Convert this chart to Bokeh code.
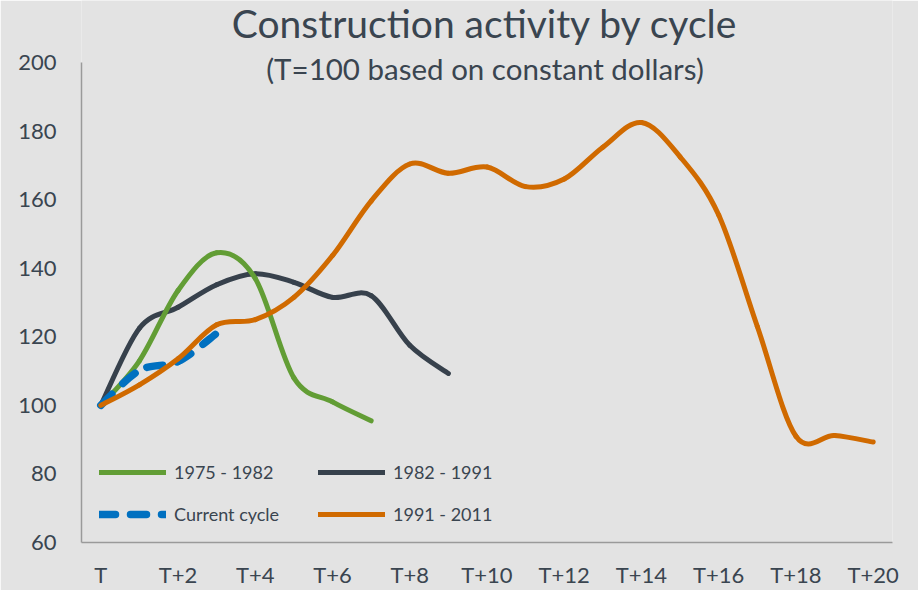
from bokeh.plotting import figure
from bokeh.models import (ColumnDataSource, FixedTicker, Legend, LegendItem, Label)
from bokeh.embed import file_html
from bokeh.resources import INLINE

# ---------------- data ----------------
title_text = "Construction activity by cycle"
subtitle_text = "(T=100 based on constant dollars)"

x_ticks = [0, 2, 4, 6, 8, 10, 12, 14, 16, 18, 20]
x_tick_labels = ["T", "T+2", "T+4", "T+6", "T+8", "T+10", "T+12", "T+14", "T+16", "T+18", "T+20"]
y_ticks = [60, 80, 100, 120, 140, 160, 180, 200]

x_1975 = [0, 1, 2, 3, 4, 5, 6, 7]
y_1975 = [100, 113, 133.5, 144.5, 137, 108, 101, 95.5]

x_1982 = [0, 1, 2, 3, 4, 5, 6, 7, 8, 9]
y_1982 = [100, 122.5, 128.6, 135.2, 138.4, 135.9, 131.5, 132, 117.5, 109.3]

x_current = [0, 1, 2, 3]
y_current = [100, 110.2, 112.8, 121]

x_1991 = list(range(21))
y_1991 = [100, 106, 113.6, 123.5, 125, 131.5, 143.7, 159.6, 170.4, 167.7, 169.5,
          163.8, 166, 175.3, 182.5, 172.5, 155.5, 123, 91, 91.2, 89.3]

series_names = ["1975 - 1982", "1982 - 1991", "Current cycle", "1991 - 2011"]

# ---------------- style ----------------
BG = "#e3e3e3"
TXT = "#3a4550"
C_GREEN = "#629d35"
C_DARK = "#37414c"
C_BLUE = "#0070c0"
C_ORANGE = "#d06a00"
FONT = "Lato"

W, H = 918, 590
BL, BR, BB = 81, 26, 48
TOP_GAP = 62                      # pixels between canvas top and the value 200
X0, X1, Y0, Y_TOP = -0.5, 20.5, 60, 200
PX_X = (W - BL - BR) / (X1 - X0)
PX_Y = (H - TOP_GAP - BB) / (Y_TOP - Y0)
Y1 = Y_TOP + TOP_GAP / PX_Y       # frame reaches the canvas top so the titles are not clipped
DASH_ON, DASH_OFF = 16, 15


def smooth_source(xs, ys):
    """Bezier segments (Catmull-Rom style control points, like a smoothed spreadsheet line)."""
    n = len(xs)
    d = dict(x0=[], y0=[], x1=[], y1=[], cx0=[], cy0=[], cx1=[], cy1=[], off=[])
    run = 0.0
    for i in range(n - 1):
        pm = max(i - 1, 0)
        pp = min(i + 2, n - 1)
        d["x0"].append(xs[i]); d["y0"].append(ys[i])
        d["x1"].append(xs[i + 1]); d["y1"].append(ys[i + 1])
        d["cx0"].append(xs[i] + (xs[i + 1] - xs[pm]) / 6.0)
        d["cy0"].append(ys[i] + (ys[i + 1] - ys[pm]) / 6.0)
        d["cx1"].append(xs[i + 1] - (xs[pp] - xs[i]) / 6.0)
        d["cy1"].append(ys[i + 1] - (ys[pp] - ys[i]) / 6.0)
        # keep the dash pattern continuous from one segment to the next
        d["off"].append(int(round(run)) % (DASH_ON + DASH_OFF))
        seg = (((xs[i + 1] - xs[i]) * PX_X) ** 2 + ((ys[i + 1] - ys[i]) * PX_Y) ** 2) ** 0.5
        run += seg * 1.03
    return ColumnDataSource(d)


p = figure(width=W, height=H, x_range=(X0, X1), y_range=(Y0, Y1),
           output_backend="svg", toolbar_location=None, title=None,
           min_border_left=BL, min_border_right=BR, min_border_top=0, min_border_bottom=BB,
           background_fill_color=BG, border_fill_color=BG, outline_line_color=None)

p.xgrid.visible = False
p.ygrid.visible = False

for ax in (p.xaxis[0], p.yaxis[0]):
    ax.axis_line_color = "#9a9a9a"
    ax.axis_line_width = 1.5
    ax.major_tick_line_color = None
    ax.minor_tick_line_color = None
    ax.major_tick_out = 0
    ax.major_tick_in = 0
    ax.minor_tick_out = 0
    ax.minor_tick_in = 0
    ax.major_label_text_font = FONT
    ax.major_label_text_color = TXT
    ax.major_label_text_font_size = "22px"

p.xaxis[0].ticker = FixedTicker(ticks=x_ticks)
p.xaxis[0].major_label_overrides = {t: lab for t, lab in zip(x_ticks, x_tick_labels)}
p.xaxis[0].major_label_standoff = 18
p.yaxis[0].ticker = FixedTicker(ticks=y_ticks)
p.yaxis[0].bounds = (Y0, Y_TOP)
p.yaxis[0].major_label_standoff = 25

bz = dict(x0="x0", y0="y0", x1="x1", y1="y1", cx0="cx0", cy0="cy0", cx1="cx1", cy1="cy1",
          line_cap="round", line_join="round")
r_dark = p.bezier(source=smooth_source(x_1982, y_1982), line_color=C_DARK, line_width=5, **bz)
r_green = p.bezier(source=smooth_source(x_1975, y_1975), line_color=C_GREEN, line_width=5, **bz)
r_blue = p.bezier(source=smooth_source(x_current, y_current), line_color=C_BLUE, line_width=7.5,
                  line_dash=f"{DASH_ON} {DASH_OFF}", line_dash_offset="off", **bz)
r_orange = p.bezier(source=smooth_source(x_1991, y_1991), line_color=C_ORANGE, line_width=5, **bz)

leg_style = dict(padding=0, margin=0, border_line_color=None, background_fill_alpha=0,
                 glyph_width=67, glyph_height=24, label_height=24, spacing=18,
                 label_standoff=8, label_text_font=FONT, label_text_font_size="18px",
                 label_text_color=TXT)
leg1 = Legend(items=[LegendItem(label=series_names[0], renderers=[r_green]),
                     LegendItem(label=series_names[2], renderers=[r_blue])],
              location=(18, 16), **leg_style)
leg2 = Legend(items=[LegendItem(label=series_names[1], renderers=[r_dark]),
                     LegendItem(label=series_names[3], renderers=[r_orange])],
              location=(237, 16), **leg_style)
p.add_layout(leg1, "center")
p.add_layout(leg2, "center")

p.add_layout(Label(x=403.5, y=519.5, x_units="screen", y_units="screen", text=title_text,
                   text_align="center", text_baseline="middle", text_font=FONT,
                   text_font_size="39px", text_color=TXT))
p.add_layout(Label(x=403.5, y=474.2, x_units="screen", y_units="screen", text=subtitle_text,
                   text_align="center", text_baseline="middle", text_font=FONT,
                   text_font_size="29.5px", text_color=TXT))

open("out.html", "w").write(file_html(p, INLINE))
